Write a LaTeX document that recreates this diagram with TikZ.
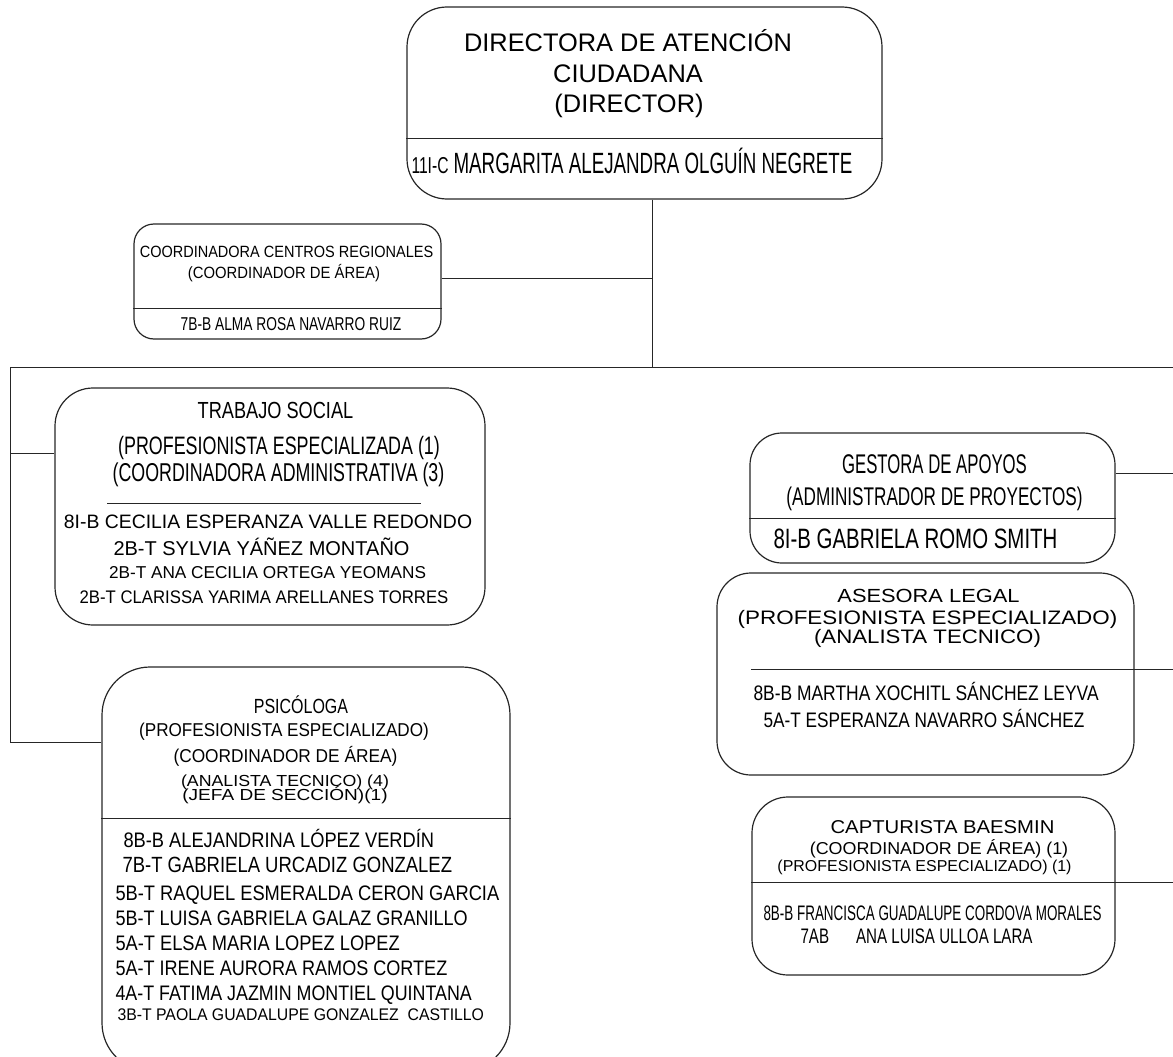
\documentclass[tikz,border=0pt]{standalone}
\usepackage{fontspec}
\setmainfont{Liberation Sans}
\newcommand\setsz[2]{\fontsize{#1}{#1}\selectfont\addfontfeatures{FakeStretch=#2}}
\begin{document}
\begin{tikzpicture}[x=1pt, y=-1pt, line width=1pt, draw=black!85,
  box/.style={draw, inner sep=0pt, line width=1.2pt},
  txt/.style={inner sep=0pt, anchor=base},
  nm/.style={inner sep=0pt, anchor=base west}]
\useasboundingbox (0,0) rectangle (1173,1057);

% boxes
\node[box, rounded corners=40pt, minimum width=475pt, minimum height=192pt] (dir) at (644.5,103) {};
\node[box, rounded corners=20pt, minimum width=307pt, minimum height=115pt] (co) at (287.5,281.5) {};
\node[box, rounded corners=38pt, minimum width=430pt, minimum height=237pt] (tr) at (270,506.5) {};
\node[box, rounded corners=48pt, minimum width=408pt, minimum height=404pt] (ps) at (306,869) {};
\node[box, rounded corners=32pt, minimum width=365pt, minimum height=130pt] (ge) at (932.5,498) {};
\node[box, rounded corners=34pt, minimum width=417pt, minimum height=202pt] (as) at (925.5,674) {};
\node[box, rounded corners=36pt, minimum width=363pt, minimum height=178pt] (ca) at (933.5,886) {};

% dividers
\draw (dir.west |- 0,138) -- (dir.east |- 0,138);
\draw (co.west |- 0,308) -- (co.east |- 0,308);
\draw (107,503) -- (421,503);
\draw (ps.west |- 0,818) -- (ps.east |- 0,818);
\draw (ge.west |- 0,518) -- (ge.east |- 0,518);

% connectors
\coordinate (j) at (652,367);
\coordinate (lt) at (10,367);
\coordinate (rt) at (1173,367);
\coordinate (lb) at (10,742);
\draw (dir.south -| j) -- (j);
\draw (co.east |- 0,278) -- (j |- 0,278);
\draw (lt) -- (rt);
\draw (lt) -- (lb) -- (ps.west |- lb);
\draw (lt |- 0,453) -- (tr.west |- 0,453);
\draw (ge.east |- 0,473) -- (rt |- 0,473);
\draw (751,669) -- (rt |- 0,669);
\draw (ca.west |- 0,882) -- (rt |- 0,882);

% director
\node[txt] (d1) at (628,52) {\setsz{25.4}{1}DIRECTORA DE ATENCIÓN};
\node[txt] (d2) at (628,82) {\setsz{25.4}{1}CIUDADANA};
\node[txt] (d3) at (629,112) {\setsz{25.4}{1}(DIRECTOR)};
\node[nm] (d4) at (411,173) {{\setsz{23}{0.68}11I-C}\hspace{5pt}{\setsz{29.3}{0.64}MARGARITA ALEJANDRA OLGUÍN NEGRETE}};

% coordinadora
\node[txt] (c1) at (286.5,257) {\setsz{16.3}{0.89}COORDINADORA CENTROS REGIONALES};
\node[txt] (c2) at (284,278) {\setsz{16.3}{0.91}(COORDINADOR DE ÁREA)};
\node[txt] (c3) at (291,330) {\setsz{18.6}{0.74}7B-B ALMA ROSA NAVARRO RUIZ};

% trabajo social
\node[txt] (t1) at (275.5,418) {\setsz{23.3}{0.78}TRABAJO SOCIAL};
\node[txt] (t2) at (279,454) {\setsz{25.2}{0.71}(PROFESIONISTA ESPECIALIZADA (1)};
\node[txt] (t3) at (278.5,481) {\setsz{25.8}{0.69}(COORDINADORA ADMINISTRATIVA (3)};
\node[txt] (t4) at (268,528) {\setsz{19.4}{1}8I-B CECILIA ESPERANZA VALLE REDONDO};
\node[txt] (t5) at (261.5,555) {\setsz{20}{1}2B-T SYLVIA YÁÑEZ MONTAÑO};
\node[txt] (t6) at (267.5,578) {\setsz{17.2}{1}2B-T ANA CECILIA ORTEGA YEOMANS};
\node[txt] (t7) at (264,603) {\setsz{18.2}{0.92}2B-T CLARISSA YARIMA ARELLANES TORRES};

% psicologa
\node[txt] (p1) at (301,713) {\setsz{20.5}{0.78}PSICÓLOGA};
\node[txt] (p2) at (284,736) {\setsz{18.6}{0.92}(PROFESIONISTA ESPECIALIZADO)};
\node[txt] (p3) at (285.5,762) {\setsz{18.6}{0.93}(COORDINADOR DE ÁREA)};
\node[txt] (p4) at (285,786) {\setsz{16}{1.11}(ANALISTA TECNICO) (4)};
\node[txt] (p5) at (285,800) {\setsz{16}{1.19}(JEFA DE SECCIÓN)(1)};
\node[nm] (p6) at (123,847) {\setsz{21}{0.87}8B-B ALEJANDRINA LÓPEZ VERDÍN};
\node[nm] (p7) at (122,872) {\setsz{22}{0.84}7B-T GABRIELA URCADIZ GONZALEZ};
\node[nm] (p8) at (115,900) {\setsz{21}{0.87}5B-T RAQUEL ESMERALDA CERON GARCIA};
\node[nm] (p9) at (115,925) {\setsz{21}{0.86}5B-T LUISA GABRIELA GALAZ GRANILLO};
\node[nm] (p10) at (115,950) {\setsz{21}{0.87}5A-T ELSA MARIA LOPEZ LOPEZ};
\node[nm] (p11) at (115,975) {\setsz{21}{0.86}5A-T IRENE AURORA RAMOS CORTEZ};
\node[nm] (p12) at (115,1000) {\setsz{21}{0.85}4A-T FATIMA JAZMIN MONTIEL QUINTANA};
\node[nm] (p13) at (117,1020) {\setsz{16.8}{0.94}3B-T PAOLA GUADALUPE GONZALEZ\ \ CASTILLO};

% gestora
\node[txt] (g1) at (934.5,473) {\setsz{27}{0.62}GESTORA DE APOYOS};
\node[txt] (g2) at (934.5,505) {\setsz{25.6}{0.67}(ADMINISTRADOR DE PROYECTOS)};
\node[nm] (g3) at (773,548) {\setsz{28}{0.73}8I-B GABRIELA ROMO SMITH};

% asesora
\node[txt] (a1) at (928.5,602) {\setsz{19}{1.15}ASESORA LEGAL};
\node[txt] (a2) at (927.5,624) {\setsz{19.5}{1.15}(PROFESIONISTA ESPECIALIZADO)};
\node[txt] (a3) at (927.5,643) {\setsz{19.5}{1.14}(ANALISTA TECNICO)};
\node[nm] (a4) at (753,700) {\setsz{21}{0.83}8B-B MARTHA XOCHITL SÁNCHEZ LEYVA};
\node[nm] (a5) at (763,727) {\setsz{21}{0.82}5A-T ESPERANZA NAVARRO SÁNCHEZ};

% capturista
\node[txt] (k1) at (942.5,833) {\setsz{18.6}{1.09}CAPTURISTA BAESMIN};
\node[txt] (k2) at (939,854) {\setsz{17.2}{1.04}(COORDINADOR DE ÁREA) (1)};
\node[txt] (k3) at (924.5,871) {\setsz{15.8}{1.01}(PROFESIONISTA ESPECIALIZADO) (1)};
\node[nm] (k4) at (763,920) {\setsz{21}{0.64}8B-B FRANCISCA GUADALUPE CORDOVA MORALES};
\node[nm] (k5) at (800,943) {\setsz{21}{0.72}7AB\hspace{27pt}ANA LUISA ULLOA LARA};
\end{tikzpicture}
\end{document}
